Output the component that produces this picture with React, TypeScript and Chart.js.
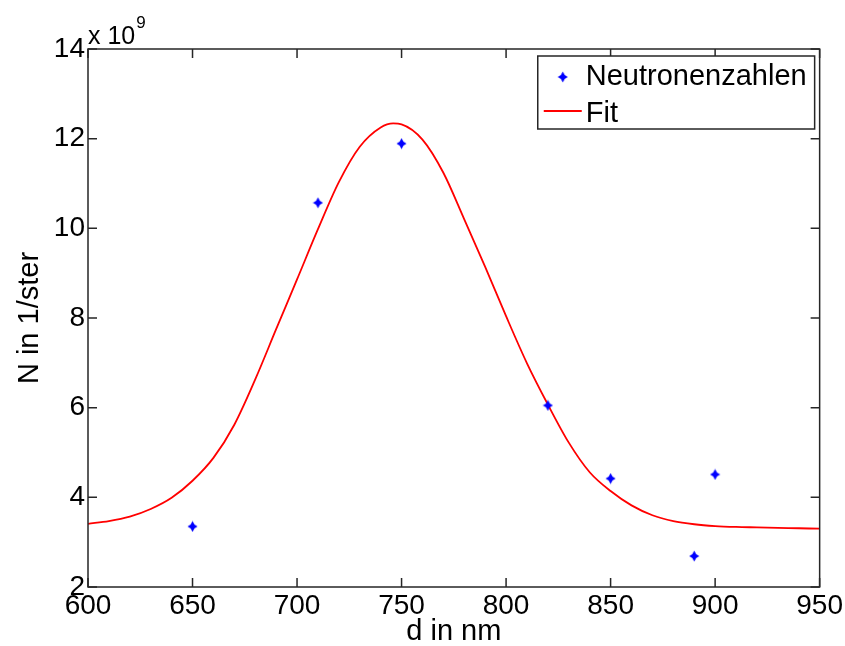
import React, { useEffect, useRef } from "react";
import { Chart, registerables } from "chart.js";
Chart.register(...registerables);

const xTicks = [600, 650, 700, 750, 800, 850, 900, 950];
const yTicks = [2, 4, 6, 8, 10, 12, 14];

const measX = [650, 710, 750, 820, 850, 890, 900];
const measY = [3.35, 10.57, 11.89, 6.05, 4.42, 2.69, 4.51];

const fitX = [600, 610, 620, 630, 640, 650, 660, 670, 680, 690, 700, 710, 720, 730, 740, 746, 750, 760, 770, 780, 790, 800, 810, 820, 830, 840, 850, 860, 870, 880, 890, 900, 910, 920, 930, 940, 950];
const fitY = [3.41, 3.47, 3.57, 3.74, 3.99, 4.37, 4.88, 5.62, 6.63, 7.75, 8.86, 9.98, 11.03, 11.82, 12.25, 12.34, 12.32, 11.98, 11.24, 10.2, 9.14, 8.04, 6.99, 6.07, 5.22, 4.56, 4.14, 3.82, 3.6, 3.47, 3.4, 3.36, 3.34, 3.33, 3.32, 3.31, 3.3];

const seriesNames = ["Neutronenzahlen", "Fit"];
const xTitle = "d in nm";
const yTitle = "N in 1/ster";
const expBase = "x 10";
const expPow = "9";

const FONT = '"Liberation Sans", Arial, Helvetica, sans-serif';
const BLUE = "#0000ff";
const RED = "#ff0000";

function makeStar(color: string) {
  const c = document.createElement("canvas");
  c.width = 11;
  c.height = 12;
  const g = c.getContext("2d")!;
  g.fillStyle = color;
  const cx = 5.5, cy = 6, d = 1.9;
  g.beginPath();
  g.moveTo(cx, 0.5);
  g.lineTo(cx + d, cy - d);
  g.lineTo(10.5, cy);
  g.lineTo(cx + d, cy + d);
  g.lineTo(cx, 11.5);
  g.lineTo(cx - d, cy + d);
  g.lineTo(0.5, cy);
  g.lineTo(cx - d, cy - d);
  g.closePath();
  g.fill();
  return c;
}

export default function App() {
  const ref = useRef<HTMLCanvasElement | null>(null);
  useEffect(() => {
    if (!ref.current) return;
    const star = makeStar(BLUE);
    const framePlugin = {
      id: "frame",
      afterDraw(chart: any) {
        const { ctx, chartArea: a, scales } = chart;
        ctx.save();
        ctx.strokeStyle = "#262626";
        ctx.lineWidth = 1.5;
        ctx.strokeRect(a.left, a.top, a.right - a.left, a.bottom - a.top);
        const L = 9;
        ctx.beginPath();
        xTicks.forEach((v) => {
          const px = scales.x.getPixelForValue(v);
          ctx.moveTo(px, a.bottom);
          ctx.lineTo(px, a.bottom - L);
          ctx.moveTo(px, a.top);
          ctx.lineTo(px, a.top + L);
        });
        yTicks.forEach((v) => {
          const py = scales.y.getPixelForValue(v);
          ctx.moveTo(a.left, py);
          ctx.lineTo(a.left + L, py);
          ctx.moveTo(a.right, py);
          ctx.lineTo(a.right - L, py);
        });
        ctx.stroke();

        // exponent label
        ctx.fillStyle = "#000";
        ctx.textAlign = "left";
        ctx.textBaseline = "alphabetic";
        ctx.font = `25px ${FONT}`;
        ctx.fillText(expBase, a.left, a.top - 5);
        const w = ctx.measureText(expBase).width;
        ctx.font = `17px ${FONT}`;
        ctx.fillText(expPow, a.left + w + 1, a.top - 21);

        // legend
        ctx.font = `29px ${FONT}`;
        const tw = ctx.measureText(seriesNames[0]).width;
        const boxR = a.right - 5;
        const boxL = boxR - (48 + tw + 8);
        const boxT = a.top + 7;
        const boxH = 73;
        ctx.fillStyle = "#fff";
        ctx.fillRect(boxL, boxT, boxR - boxL, boxH);
        ctx.strokeStyle = "#262626";
        ctx.lineWidth = 1.5;
        ctx.strokeRect(boxL, boxT, boxR - boxL, boxH);
        ctx.drawImage(star, boxL + 25 - 5.5, boxT + 21 - 6);
        ctx.strokeStyle = RED;
        ctx.lineWidth = 2;
        ctx.beginPath();
        ctx.moveTo(boxL + 6, boxT + 55);
        ctx.lineTo(boxL + 44, boxT + 55);
        ctx.stroke();
        ctx.fillStyle = "#000";
        ctx.fillText(seriesNames[0], boxL + 48, boxT + 29);
        ctx.fillText(seriesNames[1], boxL + 48, boxT + 66);
        ctx.restore();
      },
    };

    const chart = new Chart(ref.current, {
      type: "scatter",
      data: {
        datasets: [
          {
            label: seriesNames[0],
            data: measX.map((x, i) => ({ x, y: measY[i] })),
            pointStyle: star as any,
            pointRadius: 5,
            showLine: false,
            backgroundColor: BLUE,
            borderColor: BLUE,
          },
          {
            label: seriesNames[1],
            data: fitX.map((x, i) => ({ x, y: fitY[i] })),
            showLine: true,
            pointRadius: 0,
            borderColor: RED,
            borderWidth: 1.8,
            cubicInterpolationMode: "monotone",
            fill: false,
          },
        ],
      },
      options: {
        responsive: false,
        animation: false,
        layout: { padding: { top: 49, right: 24, left: 0, bottom: 0 } },
        plugins: { legend: { display: false }, tooltip: { enabled: false } },
        scales: {
          x: {
            type: "linear",
            min: 600,
            max: 950,
            afterBuildTicks: (s: any) => {
              s.ticks = xTicks.map((v) => ({ value: v }));
            },
            ticks: {
              autoSkip: false,
              maxRotation: 0,
              color: "#000",
              padding: 2,
              font: { family: FONT, size: 28, lineHeight: 1.2 },
            },
            grid: { display: false, drawTicks: false },
            border: { display: false },
            title: {
              display: true,
              text: xTitle,
              color: "#000",
              font: { family: FONT, size: 29, lineHeight: 1 },
              padding: { top: 0, bottom: 0 },
            },
            afterFit: (s: any) => {
              s.height = 59;
            },
          },
          y: {
            type: "linear",
            min: 2,
            max: 14,
            afterBuildTicks: (s: any) => {
              s.ticks = yTicks.map((v) => ({ value: v }));
            },
            ticks: {
              autoSkip: false,
              color: "#000",
              padding: 3,
              font: { family: FONT, size: 28, lineHeight: 1.2 },
            },
            grid: { display: false, drawTicks: false },
            border: { display: false },
            title: {
              display: true,
              text: yTitle,
              color: "#000",
              font: { family: FONT, size: 29, lineHeight: 1.2 },
              padding: { top: 13, bottom: 0 },
            },
            afterFit: (s: any) => {
              s.width = 88;
            },
          },
        },
      },
      plugins: [framePlugin],
    } as any);
    return () => chart.destroy();
  }, []);
  return (
    <div style={{ position: "absolute", left: 0, top: 0, width: 845, height: 646, background: "#fff" }}>
      <canvas ref={ref} width={845} height={646} />
    </div>
  );
}
